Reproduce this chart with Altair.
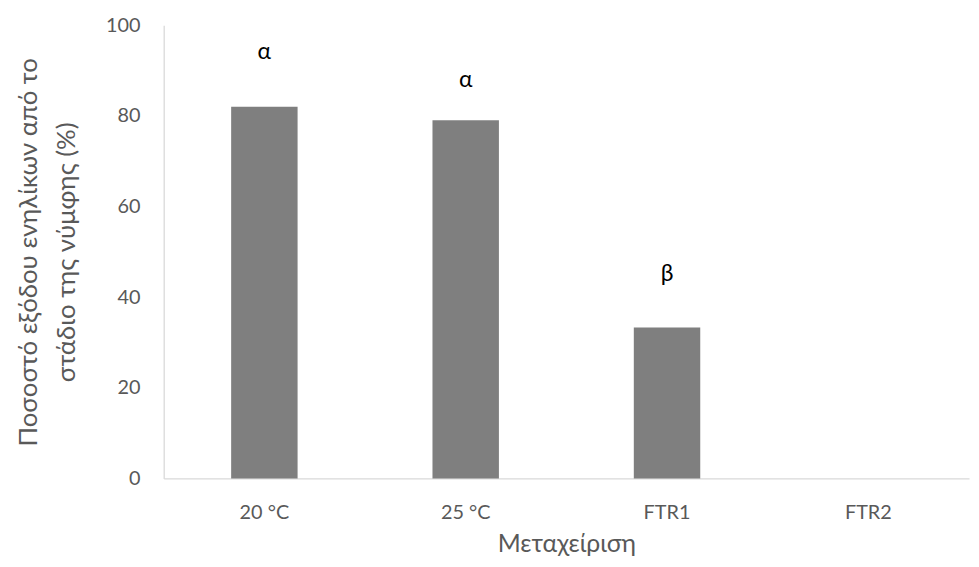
import altair as alt
import pandas as pd

categories = ["20 °C", "25 °C", "FTR1", "FTR2"]
values = [82, 79, 33.3, 0]
letters = ["α", "α", "β", ""]
letter_heights = [94, 88, 45, 0]

df = pd.DataFrame({"cat": categories, "val": values, "lab": letters, "ly": letter_heights})

FONT = "Lato"
GREY = "#595959"

x = alt.X("cat:N", sort=categories, title="Μεταχείριση",
          scale=alt.Scale(paddingInner=0.67, paddingOuter=0.335),
          axis=alt.Axis(labelAngle=0, ticks=False, domainColor="#d9d9d9", domainWidth=1.3,
                        labelFontSize=20, labelColor=GREY, labelFont=FONT, labelPadding=24,
                        titleFontSize=25, titleColor=GREY, titleFont=FONT, titleFontWeight="normal",
                        titlePadding=10))

bars = alt.Chart(df).mark_bar(color="#7f7f7f").encode(
    x=x,
    y=alt.Y("val:Q", scale=alt.Scale(domain=[0, 100]),
            title=["Ποσοστό εξόδου ενηλίκων από το", "στάδιο της νύμφης (%)"],
            axis=alt.Axis(values=[0, 20, 40, 60, 80, 100], grid=False, ticks=False,
                          domainColor="#d9d9d9", domainWidth=1.3,
                          labelFontSize=20, labelColor=GREY, labelFont=FONT, labelPadding=24,
                          titleFontSize=26, titleColor=GREY, titleFont=FONT, titleFontWeight="normal",
                          titlePadding=26, titleLineHeight=38)),
)

texts = alt.Chart(df).mark_text(fontSize=23, font=FONT, color="black").encode(
    x=alt.X("cat:N", sort=categories),
    y=alt.Y("ly:Q"),
    text="lab:N",
)

chart = (bars + texts).properties(
    width=812, height=457,
    autosize=alt.AutoSizeParams(type="none"),
    padding={"left": 157, "top": 15, "right": 2, "bottom": 85},
).configure_view(stroke=None)

chart.save("out.html", embed_options={"renderer": "svg", "actions": False})
